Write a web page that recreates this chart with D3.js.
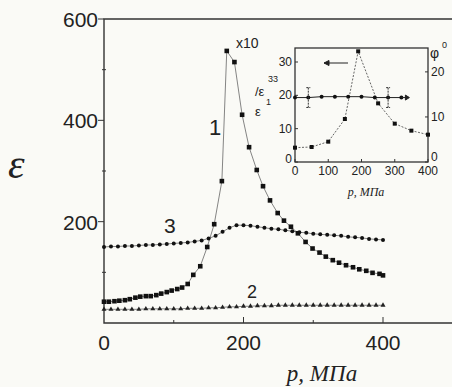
<html>
<head>
    <style>
        body { margin: 0; background: #fafaf6; }
        svg { display: block; }
        text { fill: #222; }
    </style>
    <script src="https://cdn.jsdelivr.net/npm/d3@7"></script>
</head>
<body>
<svg id="Grafico"></svg>
<script>
    // curva 1 (cuadrados, x10)
    let presion1 = [0, 7, 15, 22, 30, 37, 45, 52, 60, 67, 75, 82, 90, 97, 105, 112, 120, 128, 138, 148, 158, 169, 176, 187, 198, 208, 219, 228, 238, 249, 258, 268, 278, 289, 299, 309, 318, 328, 337, 347, 357, 366, 376, 385, 395, 400];
    let epsilon1 = [42, 42, 43, 44, 45, 47, 50, 52, 53, 53, 55, 58, 61, 64, 67, 70, 77, 95, 112, 150, 195, 280, 537, 515, 411, 347, 302, 270, 242, 217, 202, 190, 177, 160, 147, 139, 131, 124, 119, 114, 110, 106, 103, 99, 97, 94];

    // curvas 2 y 3, cada 10 MPa
    let presion23 = d3.range(0, 401, 10);
    let epsilon2 = [27, 27, 27, 27, 27, 27, 28, 28, 28, 28, 28, 28, 29, 29, 29, 30, 30, 31, 32, 32, 33, 33, 34, 34, 34, 35, 35, 35, 35, 35, 35, 35, 35, 35, 35, 35, 35, 35, 35, 35, 35];
    let epsilon3 = [150, 151, 151, 152, 152, 153, 154, 154, 155, 156, 157, 158, 159, 161, 163, 167, 172, 180, 188, 193, 193, 192, 190, 188, 186, 185, 183, 181, 179, 178, 176, 175, 174, 173, 172, 170, 169, 168, 166, 165, 164];

    // recuadro: eps/eps33 y angulo phi
    let presionPico = [0, 50, 100, 150, 190, 250, 300, 350, 400];
    let relacionPico = [4.3, 4.5, 6.1, 12.9, 33.2, 17.6, 11.5, 9.4, 8.2];
    let presionPhi = [0, 40, 80, 120, 160, 200, 240, 280, 320];
    let phi = [14.3, 14.3, 14.5, 14.5, 14.5, 14.5, 14.3, 14.3, 14.3];
    let presionError = [40, 280];
    let errorPhi = [2.2, 2.2];

    let ticksX = [0, 200, 400];
    let ticksY = [200, 400, 600];
    let ticksXRecuadro = [0, 100, 200, 300, 400];
    let ticksYRecuadro = [0, 10, 20, 30];
    let ticksPhi = [0, 10, 20];

    let ancho = 452, alto = 387;
    let svg = d3.select("#Grafico").attr("width", ancho).attr("height", alto);
    svg.append("rect").attr("width", ancho).attr("height", alto).attr("fill", "#fafaf6");

    function dibujarPrincipal() {
        let escalaX = d3.scaleLinear().domain([0, 500]).range([104, 452.75]);
        let escalaY = d3.scaleLinear().domain([0, 600]).range([323, 19]);

        // marco
        svg.append("path")
            .attr("d", `M452,19H104V323H452`)
            .attr("fill", "none").attr("stroke", "#333").attr("stroke-width", 1.4);

        let ejeY = svg.append("g").style("font-family", "Arial, 'Liberation Sans', sans-serif").style("font-size", "21px");
        ejeY.selectAll("line.mayor").data(ticksY).enter().append("line")
            .attr("x1", 98).attr("x2", 104)
            .attr("y1", d => escalaY(d)).attr("y2", d => escalaY(d))
            .attr("stroke", "#333");
        ejeY.selectAll("line.menor").data([100, 300, 500]).enter().append("line")
            .attr("x1", 102).attr("x2", 106)
            .attr("y1", d => escalaY(d)).attr("y2", d => escalaY(d))
            .attr("stroke", "#333");
        ejeY.selectAll("text").data(ticksY).enter().append("text")
            .attr("x", 98).attr("y", d => escalaY(d) + 8)
            .attr("text-anchor", "end").text(d => d);

        let ejeX = svg.append("g").style("font-family", "Arial, 'Liberation Sans', sans-serif").style("font-size", "21px");
        ejeX.selectAll("line").data([100, 200, 300, 400]).enter().append("line")
            .attr("x1", d => escalaX(d)).attr("x2", d => escalaX(d))
            .attr("y1", 323).attr("y2", d => d % 200 ? 320 : 317)
            .attr("stroke", "#333");
        ejeX.selectAll("text").data(ticksX).enter().append("text")
            .attr("x", d => escalaX(d)).attr("y", 350)
            .attr("text-anchor", "middle").text(d => d);

        svg.append("text").attr("x", 322).attr("y", 381).attr("text-anchor", "middle")
            .style("font-family", "'Liberation Serif', 'DejaVu Serif', serif").style("font-style", "italic").style("font-size", "23px")
            .text("p, МПа");
        svg.append("text").attr("x", 8).attr("y", 178)
            .style("font-family", "'Liberation Serif', 'DejaVu Serif', serif").style("font-style", "italic").style("font-size", "42px")
            .text("ε");

        let linea = (xs, ys) => d3.line().x((d, i) => escalaX(xs[i])).y(d => escalaY(d))(ys);

        [[presion1, epsilon1], [presion23, epsilon3], [presion23, epsilon2]].forEach(([xs, ys]) => {
            svg.append("path").attr("d", linea(xs, ys))
                .attr("fill", "none").attr("stroke", "#666").attr("stroke-width", 0.8);
        });

        svg.append("g").selectAll("rect").data(epsilon1).enter().append("rect")
            .attr("x", (d, i) => escalaX(presion1[i]) - 2.3).attr("y", d => escalaY(d) - 2.3)
            .attr("width", 4.6).attr("height", 4.6).attr("fill", "#111");
        svg.append("g").selectAll("circle").data(epsilon3).enter().append("circle")
            .attr("cx", (d, i) => escalaX(presion23[i])).attr("cy", d => escalaY(d))
            .attr("r", 2).attr("fill", "#111");
        svg.append("g").selectAll("path").data(epsilon2).enter().append("path")
            .attr("d", d3.symbol(d3.symbolTriangle, 11))
            .attr("transform", (d, i) => `translate(${escalaX(presion23[i])},${escalaY(d)})`)
            .attr("fill", "#222");

        let etiquetas = svg.append("g").style("font-family", "Arial, 'Liberation Sans', sans-serif");
        etiquetas.append("text").attr("x", 209).attr("y", 135).style("font-size", "22px").text("1");
        etiquetas.append("text").attr("x", 164).attr("y", 233).style("font-size", "21px").text("3");
        etiquetas.append("text").attr("x", 247).attr("y", 298).style("font-size", "18px").text("2");
        etiquetas.append("text").attr("x", 236).attr("y", 48).style("font-size", "14px").text("x10");
    }

    function dibujarRecuadro() {
        let x0 = 295, x1 = 428, y0 = 48, y1 = 162;
        let escalaX = d3.scaleLinear().domain([0, 400]).range([x0, x1]);
        let escalaY = d3.scaleLinear().domain([0, 34.2]).range([y1, y0]);
        let escalaPhi = d3.scaleLinear().domain([0, 25.3]).range([y1, y0]);
        let g = svg.append("g").style("font-family", "Arial, 'Liberation Sans', sans-serif").style("font-size", "12px");

        g.append("rect").attr("x", x0).attr("y", y0).attr("width", x1 - x0).attr("height", y1 - y0)
            .attr("fill", "none").attr("stroke", "#333").attr("stroke-width", 1.3);

        g.selectAll("text.x").data(ticksXRecuadro).enter().append("text")
            .attr("x", d => escalaX(d)).attr("y", 175).attr("text-anchor", "middle").text(d => d);
        g.selectAll("line.x").data(ticksXRecuadro).enter().append("line")
            .attr("x1", d => escalaX(d)).attr("x2", d => escalaX(d)).attr("y1", y1).attr("y2", y1 - 3)
            .attr("stroke", "#333");
        g.selectAll("text.y").data(ticksYRecuadro).enter().append("text")
            .attr("x", 292).attr("y", d => escalaY(d) + (d ? 4 : 1)).attr("text-anchor", "end").text(d => d);
        g.selectAll("line.y").data(ticksYRecuadro).enter().append("line")
            .attr("x1", x0).attr("x2", x0 + 3).attr("y1", d => escalaY(d)).attr("y2", d => escalaY(d))
            .attr("stroke", "#333");
        g.selectAll("text.phi").data(ticksPhi).enter().append("text")
            .attr("x", 431).attr("y", d => escalaPhi(d) + (d ? 4 : -1)).text(d => d);
        g.selectAll("line.phi").data(ticksPhi).enter().append("line")
            .attr("x1", x1 - 3).attr("x2", x1).attr("y1", d => escalaPhi(d)).attr("y2", d => escalaPhi(d))
            .attr("stroke", "#333");

        g.append("text").attr("x", 430).attr("y", 58).style("font-size", "14px").text("φ");
        g.append("text").attr("x", 442).attr("y", 48).style("font-size", "9px").text("0");
        g.append("text").attr("x", 366).attr("y", 196).attr("text-anchor", "middle")
            .style("font-family", "'Liberation Serif', serif").style("font-style", "italic").text("p, МПа");
        g.append("text").attr("x", 268).attr("y", 82).style("font-size", "9px").text("33");
        g.append("text").attr("x", 255).attr("y", 96).style("font-size", "13px").text("/ε");
        g.append("text").attr("x", 266).attr("y", 105).style("font-size", "9px").text("1");
        g.append("text").attr("x", 255).attr("y", 116).style("font-size", "13px").text("ε");

        // curva del pico
        let lineaPico = d3.line().x((d, i) => escalaX(presionPico[i])).y(d => escalaY(d));
        g.append("path").attr("d", lineaPico(relacionPico))
            .attr("fill", "none").attr("stroke", "#555").attr("stroke-width", 0.9).attr("stroke-dasharray", "2,1.5");
        g.selectAll("rect.pico").data(relacionPico).enter().append("rect")
            .attr("x", (d, i) => escalaX(presionPico[i]) - 2).attr("y", d => escalaY(d) - 2)
            .attr("width", 4).attr("height", 4).attr("fill", "#111");

        // curva de phi
        let lineaPhi = d3.line().x((d, i) => escalaX(presionPhi[i])).y(d => escalaPhi(d));
        g.append("path").attr("d", lineaPhi(phi)).attr("fill", "none").attr("stroke", "#222").attr("stroke-width", 1);
        g.selectAll("circle").data(phi).enter().append("circle")
            .attr("cx", (d, i) => escalaX(presionPhi[i])).attr("cy", d => escalaPhi(d))
            .attr("r", 2).attr("fill", "#111");
        let xFin = escalaX(presionPhi[presionPhi.length - 1]), yFin = escalaPhi(phi[phi.length - 1]);
        g.append("path").attr("d", `M${xFin},${yFin}h7M${xFin + 8},${yFin}l-4,-2.5v5z`).attr("stroke", "#222").attr("fill", "#222");

        presionError.forEach((p, i) => {
            let xe = escalaX(p), j = presionPhi.indexOf(p);
            let ya = escalaPhi(phi[j] + errorPhi[i]), yb = escalaPhi(phi[j] - errorPhi[i]);
            g.append("path").attr("d", `M${xe},${ya}V${yb}M${xe - 2},${ya}h4M${xe - 2},${yb}h4`)
                .attr("stroke", "#333").attr("stroke-dasharray", "2,1");
        });

        // flecha hacia el eje izquierdo
        g.append("path").attr("d", "M348,63H324M324,63l5,-2.5v5z").attr("stroke", "#222").attr("fill", "#222");
    }

    dibujarPrincipal();
    dibujarRecuadro();
</script>
</body>
</html>
